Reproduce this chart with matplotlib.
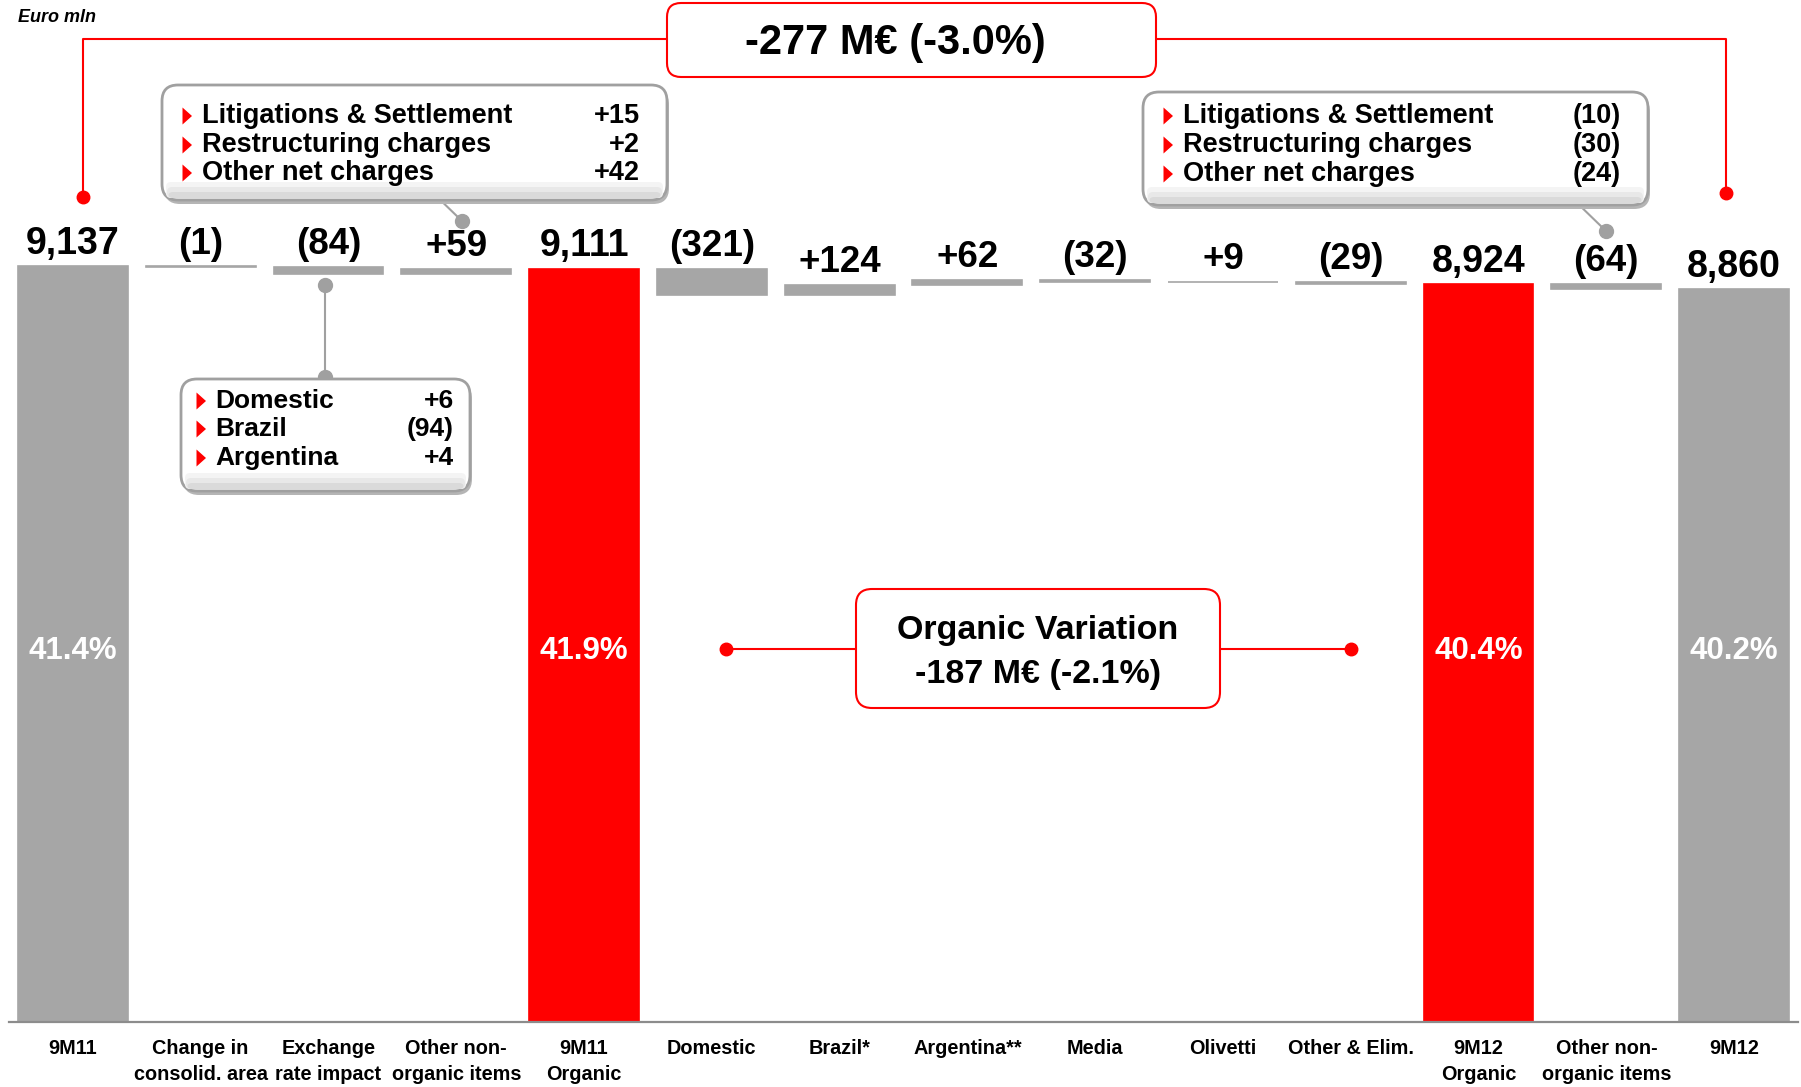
import matplotlib
matplotlib.use('Agg')
import matplotlib.pyplot as plt
from matplotlib.patches import FancyBboxPatch, Polygon
from matplotlib.lines import Line2D
from matplotlib.transforms import Affine2D

plt.rcParams['font.family'] = ['Liberation Sans', 'DejaVu Sans']

# ---------------- data ----------------
categories = ['9M11', 'Change in\nconsolid. area', 'Exchange\nrate impact',
              'Other non-\norganic items', '9M11\nOrganic', 'Domestic', 'Brazil*',
              'Argentina**', 'Media', 'Olivetti', 'Other & Elim.', '9M12\nOrganic',
              'Other non-\norganic items', '9M12']
values = [9137, -1, -84, 59, 9111, -321, 124, 62, -32, 9, -29, 8924, -64, 8860]
kinds = ['total', 'delta', 'delta', 'delta', 'organic', 'delta', 'delta',
         'delta', 'delta', 'delta', 'delta', 'organic', 'delta', 'total']
pct_index = [0, 4, 11, 13]
pct_values = [41.4, 41.9, 40.4, 40.2]

nonorg_items = ['Litigations & Settlement', 'Restructuring charges', 'Other net charges']
nonorg_9m11 = ['+15', '+2', '+42']
nonorg_9m12 = ['(10)', '(30)', '(24)']
fx_items = ['Domestic', 'Brazil', 'Argentina']
fx_values = ['+6', '(94)', '+4']

total_change = '-277 M€ (-3.0%)'
organic_title = 'Organic Variation'
organic_change = '-187 M€ (-2.1%)'

GRAY = '#A6A6A6'
RED = '#FF0000'
W, H = 1801, 1087

fig = plt.figure(figsize=(W / 100, H / 100), dpi=100)
ax = fig.add_axes([9 / W, 65 / H, 1789 / W, 1022 / H])

# waterfall geometry
bottoms, heights, colors, tops = [], [], [], []
running = 0
for v, k in zip(values, kinds):
    if k in ('total', 'organic'):
        bottoms.append(0)
        heights.append(v)
        colors.append(GRAY if k == 'total' else RED)
        running = v
        tops.append(v)
    else:
        bottoms.append(running + min(0, v))
        heights.append(abs(v))
        colors.append(GRAY)
        tops.append(max(running, running + v))
        running += v

x = list(range(len(categories)))
ax.bar(x, heights, bottom=bottoms, width=0.86, color=colors, edgecolor=colors,
       linewidth=1.2, zorder=2)

ax.set_xlim(-0.5, len(categories) - 0.5)
ax.set_ylim(0, 12360)
for s in ('left', 'top', 'right'):
    ax.spines[s].set_visible(False)
ax.spines['bottom'].set_color('#8C8C8C')
ax.spines['bottom'].set_linewidth(1.6)
ax.set_yticks([])
ax.set_xticks(x)
ax.set_xticklabels(categories, fontsize=14.3, fontweight='bold', linespacing=1.45)
ax.tick_params(axis='x', length=0, pad=12.5)


def fmt(v, k):
    if k in ('total', 'organic'):
        return f'{v:,}'
    return f'+{v}' if v > 0 else f'({-v})'


for i, (v, k, t) in enumerate(zip(values, kinds, tops)):
    ax.annotate(fmt(v, k), xy=(i, t), xytext=(0, 16), textcoords='offset points',
                ha='center', va='center', fontsize=27 if k != 'delta' else 26.5,
                fontweight='bold', color='black', zorder=5)

for i, p in zip(pct_index, pct_values):
    ax.text(i, 0.363, f'{p:.1f}%', transform=ax.get_xaxis_transform(),
            ha='center', va='center', fontsize=22.5, fontweight='bold',
            color='white', zorder=5)

# ---------------- annotations (pixel coordinates, y from top) ----------------
PX = Affine2D().scale(1 / W, -1 / H).translate(0, 1) + fig.transFigure


def line(xs, ys, color, lw=1.5, dots=(), ms=9):
    fig.add_artist(Line2D(xs, ys, color=color, lw=lw, transform=PX, zorder=6))
    for (dx, dy) in dots:
        fig.add_artist(Line2D([dx], [dy], marker='o', ms=ms, color=color,
                              mec=color, transform=PX, zorder=7))


def box(x0, y0, w, h, edge, lw, r, shadow=False):
    if shadow:
        fig.add_artist(FancyBboxPatch((x0 + 2, y0 + 4), w, h,
                                      boxstyle=f'round,pad=0,rounding_size={r}',
                                      fc='#B5B5B5', ec='none', transform=PX, zorder=7))
    fig.add_artist(FancyBboxPatch((x0, y0), w, h,
                                  boxstyle=f'round,pad=0,rounding_size={r}',
                                  fc='white', ec=edge, lw=lw, transform=PX, zorder=8))
    if shadow:
        for j, c in enumerate(['#F4F4F4', '#E8E8E8', '#DADADA']):
            hh = 16 - 5 * j
            fig.add_artist(FancyBboxPatch((x0 + 4 + j, y0 + h - hh - 2), w - 8 - 2 * j, hh,
                                          boxstyle='round,pad=0,rounding_size=5',
                                          fc=c, ec='none', transform=PX, zorder=8.5))


def txt(xp, yp, s, **kw):
    fig.text(xp / W, 1 - yp / H, s, zorder=10, **kw)


def bullet(xp, yp):
    fig.add_artist(Polygon([(xp - 4.5, yp - 8.5), (xp + 5, yp), (xp - 4.5, yp + 8.5)],
                           closed=True, fc=RED, ec='none', transform=PX, zorder=10))


# Euro mln
txt(18, 18, 'Euro mln', fontsize=13, fontstyle='italic', fontweight='bold',
    ha='left', va='center')

# total change connector
line([83, 83, 667], [197, 39, 39], RED, dots=[(83, 197)])
line([1156, 1726, 1726], [39, 39, 193], RED, dots=[(1726, 193)])
box(667, 3, 489, 74, RED, 1.5, 14)
txt(895, 43, total_change, fontsize=30, fontweight='bold', ha='center', va='center')

# organic variation
line([726, 856], [649, 649], RED, dots=[(726, 649)])
line([1220, 1351], [649, 649], RED, dots=[(1351, 649)])
box(856, 589, 364, 119, RED, 1.5, 16)
txt(1038, 630, organic_title, fontsize=24.5, fontweight='bold', ha='center', va='center')
txt(1038, 674, organic_change, fontsize=24.5, fontweight='bold', ha='center', va='center')

# gray callouts
line([431, 462], [191, 221], '#A0A0A0', dots=[(431, 191), (462, 221)], ms=10)
line([1573, 1606], [199, 231], '#A0A0A0', dots=[(1573, 199), (1606, 231)], ms=10)
line([325, 325], [285, 377], '#A0A0A0', dots=[(325, 285), (325, 377)], ms=10)

box(162, 85, 505, 115, '#A0A0A0', 2.0, 16, shadow=True)
box(1143, 92, 505, 113, '#A0A0A0', 2.0, 16, shadow=True)
box(181, 379, 289, 112, '#A0A0A0', 2.0, 16, shadow=True)

for row, (item, a, b) in enumerate(zip(nonorg_items, nonorg_9m11, nonorg_9m12)):
    yl = [116, 145, 173][row]
    yr = [116, 145, 174][row]
    bullet(187, yl)
    txt(202, yl, item, fontsize=19.5, fontweight='bold', ha='left', va='center')
    txt(640, yl, a, fontsize=19.5, fontweight='bold', ha='right', va='center')
    bullet(1168, yr)
    txt(1183, yr, item, fontsize=19.5, fontweight='bold', ha='left', va='center')
    txt(1621, yr, b, fontsize=19.5, fontweight='bold', ha='right', va='center')

for row, (item, v) in enumerate(zip(fx_items, fx_values)):
    y = [401, 429, 458][row]
    bullet(201, y)
    txt(215, y, item, fontsize=19, fontweight='bold', ha='left', va='center')
    txt(454, y, v, fontsize=19, fontweight='bold', ha='right', va='center')

fig.savefig('out.png', dpi=100)
